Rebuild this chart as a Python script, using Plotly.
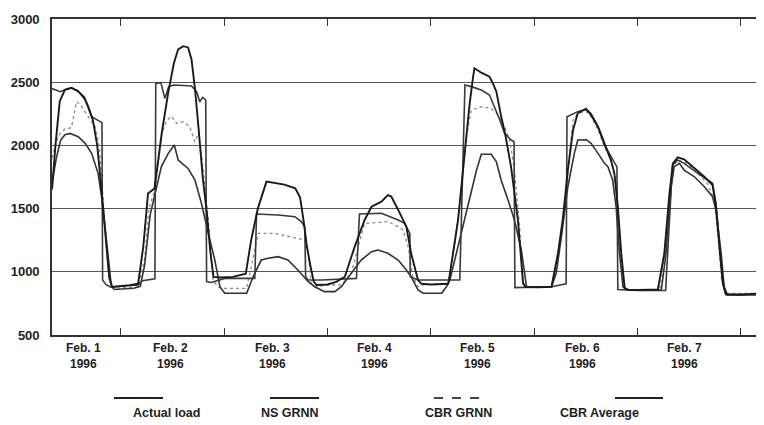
import plotly.graph_objects as go

# ---------------- data (hours from start of Feb. 1 window, load values) ----------------
actual_hours = [0, 0.8, 1.8, 3, 4.5, 6, 7.5, 8.5, 9.5, 10.5, 11.5, 12.5, 13.3, 14, 16, 18, 20, 21.2, 22.3, 23.8,
                25.5, 27, 28.3, 29.3, 30.5, 31.6, 32.4, 33.2, 34, 35, 36, 36.8, 37.5, 39, 42, 45,
                46.3, 47.8, 49.8, 51.5, 54, 56.5, 57.6, 58.4, 59.2, 60, 60.8, 61.5, 64, 66, 68,
                70.3, 72.6, 74.2, 76.5, 78, 78.8, 80.4, 82.3, 83.4, 85, 85.8, 88, 92,
                92.3, 94.3, 95.8, 97, 97.8, 98.1, 99.7, 101.6, 102.4, 103.2, 104.3, 105.3, 106.6, 108.2, 109.4, 110, 113, 116,
                117.5, 118.6, 119.8, 121, 122.1, 124, 125.2, 126.8, 128.3, 129.8, 130.6, 131.4, 132.2, 133, 134, 138, 140.7,
                142.2, 143.4, 144.2, 145.3, 146.8, 149.2, 151.5, 153.4, 154.2, 155, 155.8, 156.5, 160, 163.8, 165.3]
actual_load = [1650, 2000, 2350, 2440, 2455, 2430, 2380, 2300, 2200, 2000, 1650, 1250, 950, 880, 885, 895, 905, 1200, 1620, 1660,
               2100, 2420, 2650, 2760, 2785, 2775, 2680, 2450, 2150, 1750, 1450, 1150, 960, 955, 960, 985,
               1260, 1500, 1713, 1705, 1690, 1660, 1590, 1410, 1200, 1050, 920, 895, 900, 920, 961,
               1199, 1410, 1515, 1555, 1607, 1595, 1490, 1357, 1146, 935, 905, 900, 905,
               961, 1410, 1937, 2333, 2544, 2610, 2575, 2544, 2490, 2425, 2230, 2080, 1832, 1410, 909, 880, 878, 882,
               1146, 1410, 1805, 2122, 2254, 2290, 2240, 2148, 2016, 1884, 1779, 1515, 1146, 870, 855, 855, 860,
               1146, 1620, 1858, 1905, 1890, 1818, 1752, 1687, 1515, 1199, 909, 820, 818, 828, 882]

ns_hours = [0, 1, 2, 3, 4.2, 6.1, 7.7, 9.2, 10.7, 11.5, 12.3, 13.1, 13.8, 14.5, 16, 19, 20.5, 21.5, 22.8, 24,
            25.4, 27, 28.4, 29.3, 31.6, 33.2, 34.7, 36.3, 37.8, 39, 40.1, 45.2,
            46.7, 48.6, 50.2, 52.5, 54.8, 57.1, 59.5, 61, 63.3, 65.7, 67.2,
            69.5, 71.8, 74.2, 75.7, 78, 80.4, 82.3, 83.4, 85, 86.2, 90.5, 91.6, 92.4,
            95.1, 97.4, 98.6, 99.7, 102, 103.2, 104.3, 105.9, 107.4, 109, 109.8, 110.2, 116,
            117.1, 118.3, 119.8, 121.3, 122.1, 124.1, 125.2, 126.8, 128.3, 129.1, 130.2, 131, 131.8, 132.6, 133.7, 141.5,
            142.6, 143.8, 144.5, 145.7, 146.8, 149.2, 151.5, 153.4, 154.2, 155.4, 156.1, 156.9, 163.8, 165.3]
ns_grnn = [1700, 1900, 2040, 2085, 2095, 2069, 2016, 1937, 1779, 1595, 1357, 1093, 882, 860, 865, 870, 885, 1050, 1450, 1634,
           1832, 1937, 2003, 1884, 1818, 1726, 1542, 1304, 1093, 882, 830, 830,
           961, 1093, 1107, 1120, 1093, 1014, 922, 882, 843, 843, 882,
           988, 1093, 1159, 1172, 1146, 1093, 1014, 961, 856, 830, 830, 882, 935,
           1304, 1620, 1805, 1930, 1930, 1870, 1726, 1568, 1410, 1172, 961, 882, 882,
           988, 1278, 1673, 1937, 2043, 2045, 2016, 1937, 1858, 1832, 1726, 1515, 1146, 882, 856, 856,
           1146, 1673, 1832, 1858, 1805, 1752, 1673, 1594, 1489, 1146, 882, 816, 816, 843]

cbrg_hours = [0, 1.5, 3, 4.5, 5.7, 6.9, 8.4, 10, 11, 12, 13, 13.6, 14.5, 20, 21.5, 22.5, 24,
              25.5, 26.7, 27.8, 28.9, 30.5, 32, 33.2, 34, 34.7, 35.5, 36.3, 37, 37.4, 38.5, 40.1, 45.2,
              46.3, 47.5, 47.9, 51.7, 55.6, 58.7, 59.5, 60.2, 61.8, 63.3, 67.2,
              69.5, 71.1, 72.6, 78, 80.4, 81.5, 82.7, 83.8, 85, 86.2, 92,
              93.5, 95.1, 96.2, 97.4, 99.7, 102, 103.6, 105.1, 106.3, 107.4, 108.6, 109.4, 110, 116,
              117.5, 119.1, 120.2, 121, 122.1, 124.1, 125.2, 126.8, 128.3, 129.8, 131, 131.8, 132.6, 133.5, 141.1,
              142.2, 143.4, 144.2, 145.3, 147.6, 149.9, 152.2, 153.8, 154.6, 155.5, 156.5, 163.8, 165.3]
cbr_grnn = [1900, 2080, 2130, 2140, 2346, 2306, 2227, 2148, 1990, 1541, 1014, 900, 870, 880, 1100, 1500, 1660,
            2095, 2200, 2230, 2175, 2188, 2148, 2029, 2095, 1937, 1673, 1410, 1093, 935, 880, 869, 869,
            1040, 1252, 1304, 1304, 1278, 1252, 1146, 909, 880, 895, 896,
            988, 1199, 1383, 1397, 1357, 1331, 1199, 961, 882, 896, 909,
            1199, 1673, 2069, 2280, 2306, 2293, 2240, 2148, 2043, 1805, 1357, 909, 880, 882,
            1093, 1515, 1937, 2201, 2254, 2267, 2227, 2122, 1990, 1884, 1726, 1278, 882, 860, 856,
            1093, 1568, 1832, 1884, 1858, 1779, 1700, 1568, 1304, 935, 830, 830, 856]

cbra_hours = [0, 1.9, 3, 4.5, 6.1, 7.7, 9.2, 10.2, 11.1, 11.6, 11.75, 12.5, 13.5, 20, 21, 23.9,
              24.1, 25.3, 26.2, 27.1, 28.2, 32.4, 33.6, 34.3, 35, 35.7, 35.9, 37, 40.1, 47.1,
              47.5, 52.5, 56.4, 57.9, 58.7, 58.9, 59.5, 62.6, 70.7,
              71.4, 76.5, 80.4, 81.9, 82.7, 83.1, 83.2, 85, 94.7,
              95.9, 97.4, 99.7, 101.6, 102.8, 104, 105.1, 106.6, 107.3, 107.5, 116, 119.4,
              119.6, 122.1, 124.1, 125.2, 126.8, 128.3, 129.4, 130.6, 131.2, 131.4, 136, 142.5,
              144.1, 145.3, 146.8, 149.5, 153.4, 154.2, 155.8, 156.5, 163.8, 165.3]
cbr_average = [2450, 2425, 2440, 2455, 2430, 2359, 2227, 2206, 2188, 2180, 935, 900, 880, 895, 930, 945,
               2490, 2496, 2372, 2464, 2478, 2470, 2425, 2346, 2380, 2359, 922, 915, 948, 948,
               1457, 1449, 1436, 1397, 1357, 961, 935, 935, 948,
               1457, 1463, 1410, 1383, 1331, 1304, 961, 935, 935,
               2478, 2465, 2438, 2399, 2306, 2201, 2095, 2043, 2029, 875, 882, 905,
               2227, 2267, 2285, 2250, 2148, 2003, 1937, 1858, 1830, 860, 852, 852,
               1845, 1884, 1858, 1790, 1700, 1541, 900, 822, 822, 870]

series_names = ["Actual load", "NS GRNN", "CBR GRNN", "CBR Average"]
day_label_hours = [7.2, 27.6, 51.3, 75.0, 98.9, 123.3, 147.0]
day_labels = ["Feb. 1", "Feb. 2", "Feb. 3", "Feb. 4", "Feb. 5", "Feb. 6", "Feb. 7"]
year_label = "1996"
midnight_hours = [16, 40, 64, 88, 112, 136, 160]
y_ticks = [500, 1000, 1500, 2000, 2500, 3000]

# ---------------- styles ----------------
FONT = "Liberation Sans, Arial, sans-serif"
TXT = "#1e1e1e"
styles = [
    dict(color="#1a1a1a", width=1.9, dash="solid"),
    dict(color="#333333", width=1.6, dash="solid"),
    dict(color="#8a8a8a", width=1.3, dash="dot"),
    dict(color="#3a3a3a", width=1.6, dash="solid"),
]

fig = go.Figure()
data = [(actual_hours, actual_load), (ns_hours, ns_grnn), (cbrg_hours, cbr_grnn), (cbra_hours, cbr_average)]
order = [2, 1, 3, 0]
for i in order:
    xs, ys = data[i]
    fig.add_trace(go.Scatter(x=xs, y=ys, mode="lines", name=series_names[i],
                             line=dict(color=styles[i]["color"], width=styles[i]["width"], dash=styles[i]["dash"]),
                             showlegend=False))

# page has an 8px body margin: figure is 756x417 so it fits the 764x425 window
x_max = 712 / 4.306
fig.update_layout(
    width=756, height=417,
    margin=dict(l=44, r=0, t=11, b=90, autoexpand=False),
    plot_bgcolor="white", paper_bgcolor="white",
    showlegend=False,
    font=dict(family=FONT, color=TXT),
    xaxis=dict(range=[0, x_max], tickvals=midnight_hours, ticks="inside", ticklen=7, tickwidth=1.2,
               tickcolor="#333", showticklabels=False, showline=True, linecolor="#333", linewidth=1.6,
               mirror="ticks", showgrid=False, zeroline=False, automargin=False),
    yaxis=dict(range=[500, 3000], tickvals=y_ticks, ticktext=[f"<b>{v}</b>" for v in y_ticks],
               ticks="", showgrid=True, gridcolor="#555", gridwidth=1.4, showline=True,
               linecolor="#333", linewidth=1.6, zeroline=False, ticklabelstandoff=8, automargin=False,
               tickfont=dict(size=13, color=TXT, family=FONT)),
)

# date labels under the axis
for h, lab in zip(day_label_hours, day_labels):
    fig.add_annotation(x=h, xref="x", y=0, yref="paper", yanchor="middle", yshift=-21,
                       text=f"<b>{lab}</b><br><b>{year_label}</b>", showarrow=False,
                       font=dict(size=12, color=TXT, family=FONT))

# custom legend: key line above, label below
PW, PH, L0, B0 = 712, 316, 52, 335
key_px = [(114, 163), (270, 319), (434, 482), (615, 663)]
text_cx = [131, 290, 458, 641]
key_y = (B0 - 398) / PH
text_y = (B0 - 413) / PH
for i in range(4):
    x0, x1 = key_px[i]
    fig.add_shape(type="line", xref="paper", yref="paper",
                  x0=(x0 - L0) / PW, x1=(x1 - L0) / PW, y0=key_y, y1=key_y,
                  line=dict(color="#222" if i != 2 else "#444", width=2,
                            dash="solid" if i != 2 else "dash"))
    fig.add_annotation(x=(text_cx[i] - L0) / PW, xref="paper", y=text_y, yref="paper",
                       yanchor="middle", text=f"<b>{series_names[i]}</b>", showarrow=False,
                       font=dict(size=12.5, color=TXT, family=FONT))

fig.write_html("out.html")
